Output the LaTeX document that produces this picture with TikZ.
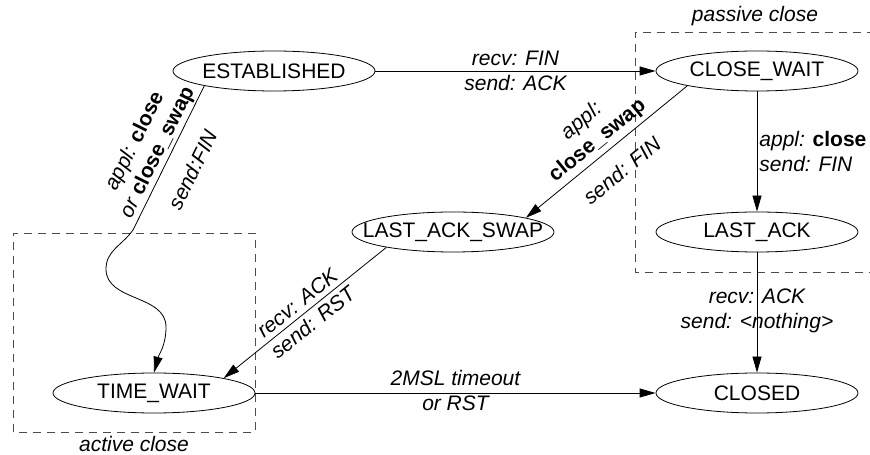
\documentclass[tikz,border=0pt]{standalone}
\usepackage{fontspec}
\setmainfont{Liberation Sans}
\usetikzlibrary{arrows.meta,shapes.geometric}
\newcommand{\stname}[1]{\makebox[0pt]{#1}}
\newcommand{\callname}[1]{\textup{\bfseries #1}}

\begin{document}
\begin{tikzpicture}[x=1pt,y=1pt,
  font=\fontsize{21}{25}\selectfont,
  state/.style={ellipse,draw,line width=0.8pt,minimum width=202pt,minimum height=40pt,inner sep=0pt},
  trans/.style={draw,line width=0.8pt,-{Triangle[length=16pt,width=9pt]}},
  lbl/.style={font=\fontsize{21}{25}\selectfont\itshape,inner sep=0pt,align=center},
  zone/.style={draw=black!70,line width=0.8pt,dash pattern=on 8pt off 6pt}]
\useasboundingbox (0,0) rectangle (870,455);

\node[state] (est) at (274,384) {\stname{ESTABLISHED}};
\node[state] (cw) at (757,384) {\stname{CLOSE\_WAIT}};
\node[state] (las) at (453,223) {\stname{LAST\_ACK\_SWAP}};
\node[state] (la) at (757,223) {\stname{LAST\_ACK}};
\node[state] (tw) at (154,62) {\stname{TIME\_WAIT}};
\node[state] (cl) at (757,62) {\stname{CLOSED}};

% close zones
\draw[zone] (875,423) -- (635,423) -- (635,183) -- (875,183);
\draw[zone] (13,23) rectangle (255,222);
\node[lbl] (passive) at (755,439) {passive close};
\node[lbl] (active) at (134,11.5) {active close};

\coordinate (k1) at (133,225);
\coordinate (k2) at (106,186);
\coordinate (k3) at (166,128);

\draw[trans] (est) -- (cw)
  node[lbl,midway] (l1) {recv: FIN\\send: ACK};
\draw[trans] (est.192) -- (k1) to[out=235,in=90] (k2) to[out=270,in=90] (k3) to[out=270,in=75] (tw.north);
\path (est.192) -- (k1)
  node[lbl,midway,sloped,above=2pt] (l2) {appl: \callname{close}\\or \callname{close\_swap}}
  node[lbl,midway,sloped,below=19pt] (l3) {send:FIN};
\draw[trans] (cw.192) -- (las.11)
  node[lbl,midway,sloped,above=4pt] (l4) {appl:\\\callname{close\_swap}}
  node[lbl,midway,sloped,below=16pt] (l5) {send: FIN};
\draw[trans] (cw) -- (la)
  node[lbl,midway,right=2pt,align=left] (l6) {appl: \callname{close}\\send: FIN};
\draw[trans] (las.193) -- (tw.12)
  node[lbl,midway,sloped] (l7) {recv: ACK\\send: RST};
\draw[trans] (la) -- (cl)
  node[lbl,midway,yshift=1.5pt] (l8) {recv: ACK\\send: \textless nothing\textgreater};
\draw[trans] (tw) -- (cl)
  node[lbl,midway,yshift=2.5pt] (l9) {2MSL timeout\\or RST};
\end{tikzpicture}
\end{document}
